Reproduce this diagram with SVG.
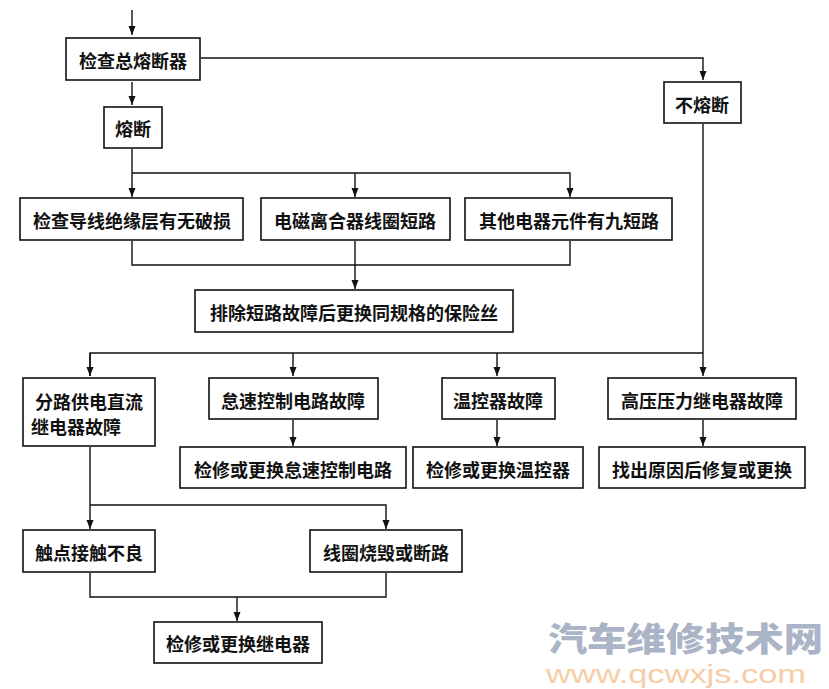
<svg xmlns="http://www.w3.org/2000/svg" width="829" height="689" viewBox="0 0 829 689">
<style>
.box{fill:#fff;stroke:#111;stroke-width:1.6}
.t{font-family:"Noto Sans CJK SC","Noto Sans CJK JP",sans-serif;font-size:18px;font-weight:bold;fill:#111;text-anchor:middle;dominant-baseline:central}
.c{fill:none;stroke:#111;stroke-width:1.4}
</style>
<defs>
<marker id="ah" markerUnits="userSpaceOnUse" markerWidth="10" markerHeight="10" refX="9" refY="5" orient="auto">
<path d="M0,1.5 L9,5 L0,8.5 Z" fill="#111"/>
</marker>
</defs>
<rect width="829" height="689" fill="#fff"/>
<g id="connectors">
<path class="c" d="M132,10 V35" marker-end="url(#ah)"/>
<path class="c" d="M132,82 V105" marker-end="url(#ah)"/>
<path class="c" d="M201,58 H703 V80" marker-end="url(#ah)"/>
<path class="c" d="M132,149 V197" marker-end="url(#ah)"/>
<path class="c" d="M132,173 H570 V197" marker-end="url(#ah)"/>
<path class="c" d="M355,173 V197" marker-end="url(#ah)"/>
<path class="c" d="M132,241 V265 H570 V241"/>
<path class="c" d="M355,241 V289" marker-end="url(#ah)"/>
<path class="c" d="M703,124 V376" marker-end="url(#ah)"/>
<path class="c" d="M90,376 V353 H703"/>
<path class="c" d="M90,353 V376" marker-end="url(#ah)"/>
<path class="c" d="M293,353 V376" marker-end="url(#ah)"/>
<path class="c" d="M497,353 V376" marker-end="url(#ah)"/>
<path class="c" d="M293,420 V446" marker-end="url(#ah)"/>
<path class="c" d="M497,420 V446" marker-end="url(#ah)"/>
<path class="c" d="M703,420 V446" marker-end="url(#ah)"/>
<path class="c" d="M90,447 V529" marker-end="url(#ah)"/>
<path class="c" d="M90,505 H386 V529" marker-end="url(#ah)"/>
<path class="c" d="M90,573 V597 H386 V573"/>
<path class="c" d="M237,597 V621" marker-end="url(#ah)"/>
</g>
<g id="n1"><rect class="box" x="66" y="38" width="134" height="42"/><text class="t" x="133" y="60">检查总熔断器</text></g>
<g id="n2"><rect class="box" x="104" y="107" width="58" height="41"/><text class="t" x="133" y="128">熔断</text></g>
<g id="n3"><rect class="box" x="664" y="82" width="77" height="41"/><text class="t" x="702" y="104">不熔断</text></g>
<g id="n4"><rect class="box" x="20" y="198" width="223" height="42"/><text class="t" x="132" y="220">检查导线绝缘层有无破损</text></g>
<g id="n5"><rect class="box" x="261" y="198" width="189" height="42"/><text class="t" x="355" y="220">电磁离合器线圈短路</text></g>
<g id="n6"><rect class="box" x="465" y="198" width="207" height="42"/><text class="t" x="569" y="220">其他电器元件有九短路</text></g>
<g id="n7"><rect class="box" x="195" y="290" width="318" height="42"/><text class="t" x="354" y="312">排除短路故障后更换同规格的保险丝</text></g>
<g id="n8"><rect class="box" x="23" y="378" width="132" height="68"/><text class="t" x="89" y="401">分路供电直流</text><text class="t" x="76" y="426">继电器故障</text></g>
<g id="n9"><rect class="box" x="209" y="378" width="169" height="41"/><text class="t" x="293" y="400">怠速控制电路故障</text></g>
<g id="n10"><rect class="box" x="442" y="378" width="113" height="41"/><text class="t" x="498" y="400">温控器故障</text></g>
<g id="n11"><rect class="box" x="608" y="378" width="188" height="41"/><text class="t" x="702" y="400">高压压力继电器故障</text></g>
<g id="n12"><rect class="box" x="180" y="447" width="226" height="41"/><text class="t" x="293" y="469">检修或更换怠速控制电路</text></g>
<g id="n13"><rect class="box" x="413" y="447" width="170" height="41"/><text class="t" x="498" y="469">检修或更换温控器</text></g>
<g id="n14"><rect class="box" x="599" y="447" width="206" height="41"/><text class="t" x="702" y="469">找出原因后修复或更换</text></g>
<g id="n15"><rect class="box" x="23" y="530" width="132" height="42"/><text class="t" x="89" y="552">触点接触不良</text></g>
<g id="n16"><rect class="box" x="310" y="530" width="152" height="42"/><text class="t" x="386" y="552">线圈烧毁或断路</text></g>
<g id="n17"><rect class="box" x="154" y="622" width="168" height="41"/><text class="t" x="238" y="643">检修或更换继电器</text></g>
<g id="watermark">
<text x="548" y="651" font-family="Noto Sans CJK SC, sans-serif" font-size="33" font-weight="900" fill="#aab4c6" textLength="275" lengthAdjust="spacingAndGlyphs">汽车维修技术网</text>
<text x="546" y="683" font-family="Liberation Sans, Arial, sans-serif" font-size="25" fill="#f6cda6" textLength="260" lengthAdjust="spacingAndGlyphs">www.qcwxjs.com</text>
</g>
</svg>
